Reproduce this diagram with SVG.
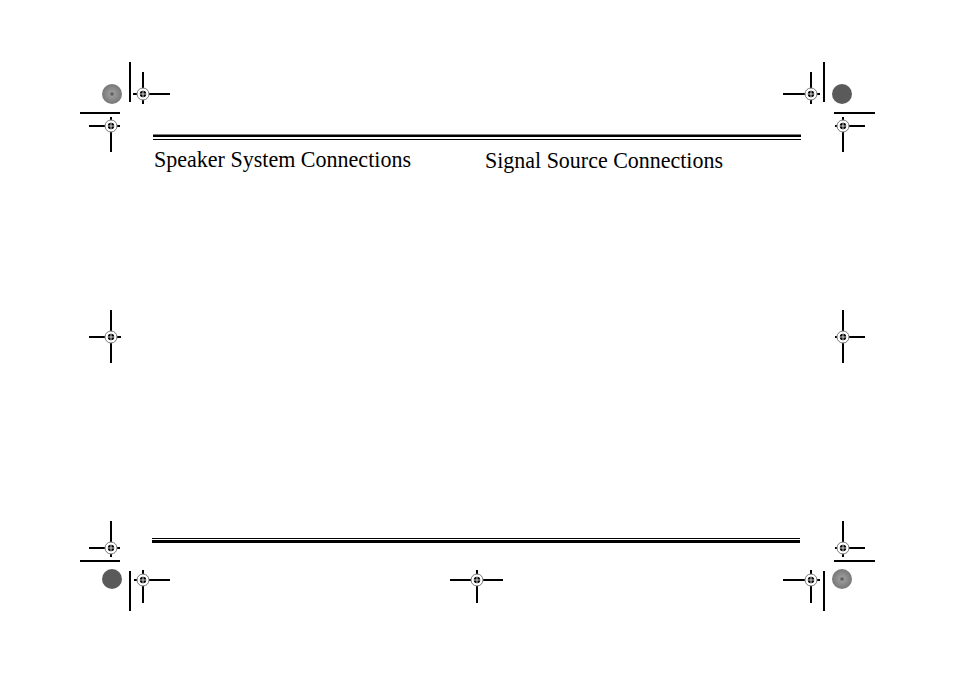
<svg xmlns="http://www.w3.org/2000/svg" width="954" height="674" viewBox="0 0 954 674">
<style>
.l{stroke:#000;stroke-width:1.2;fill:none;shape-rendering:crispEdges}
.t{font-family:"Liberation Serif",serif;font-size:24px;fill:#000}
</style>
<defs>
<g id="reg"><circle r="6" fill="#fff" stroke="#777" stroke-width="1"/><circle r="3.2" fill="#000"/><line x1="-3" y1="0" x2="3" y2="0" stroke="#fff" stroke-width="0.8"/><line x1="0" y1="-3" x2="0" y2="3" stroke="#fff" stroke-width="0.8"/></g>
<radialGradient id="dg"><stop offset="0" stop-color="#444"/><stop offset="0.25" stop-color="#999"/><stop offset="1" stop-color="#777"/></radialGradient>
</defs>
<rect width="954" height="674" fill="#fff"/>
<g id="rules">
<rect x="153" y="134.5" width="648" height="2.5" fill="#000"/>
<line x1="153" y1="139.5" x2="801" y2="139.5" class="l"/>
<line x1="152" y1="538.5" x2="800" y2="538.5" class="l"/>
<rect x="152" y="540" width="648" height="3" fill="#000"/>
</g>
<g id="titles">
<text class="t" x="154" y="167" textLength="257" lengthAdjust="spacingAndGlyphs">Speaker System Connections</text>
<text class="t" x="485" y="168" textLength="238" lengthAdjust="spacingAndGlyphs">Signal Source Connections</text>
</g>
<g id="marks" class="l">
<path d="M133 94H170M143 72V104M130 62V102"/>
<path d="M89 126H120M111 117V152M80 113H120"/>
<path d="M783 94H820M811 72V104M824 62V102"/>
<path d="M835 126H865M843 117V152M834 113H875"/>
<path d="M89 337H121M111 310V363"/>
<path d="M835 337H865M843 310V363"/>
<path d="M89 548H120M111 521V557M80 561H120"/>
<path d="M134 580H170M143 570V603M130 571V611"/>
<path d="M450 580H503M477 570V603"/>
<path d="M783 580H820M811 570V603M824 571V611"/>
<path d="M835 548H865M843 521V557M834 561H875"/>
</g>
<g id="targets">
<use href="#reg" x="143" y="94"/><use href="#reg" x="111" y="126"/>
<use href="#reg" x="811" y="94"/><use href="#reg" x="843" y="126"/>
<use href="#reg" x="111" y="337"/><use href="#reg" x="843" y="337"/>
<use href="#reg" x="111" y="548"/><use href="#reg" x="143" y="580"/>
<use href="#reg" x="477" y="580"/><use href="#reg" x="811" y="580"/>
<use href="#reg" x="843" y="548"/>
</g>
<g id="discs">
<circle cx="112" cy="94" r="10" fill="url(#dg)"/>
<circle cx="842" cy="94" r="10" fill="#5a5a5a"/>
<circle cx="112" cy="579" r="10" fill="#5a5a5a"/>
<circle cx="842" cy="579" r="10" fill="url(#dg)"/>
</g>
</svg>
